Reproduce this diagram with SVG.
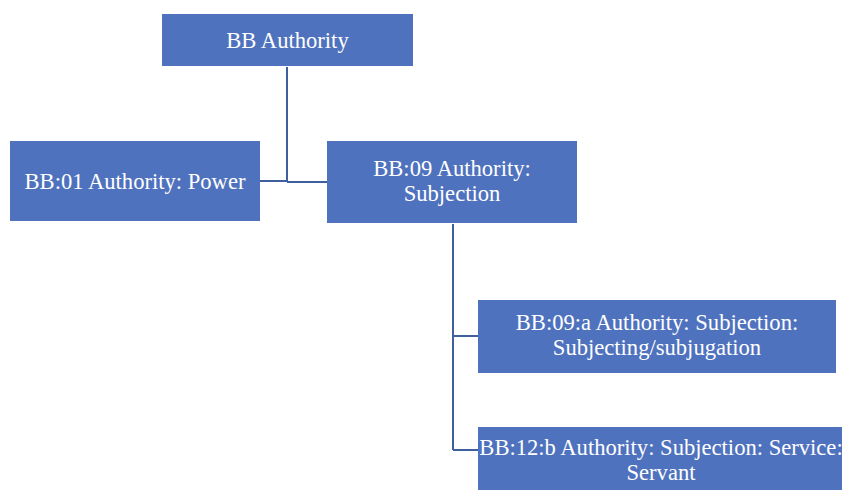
<svg xmlns="http://www.w3.org/2000/svg" width="842" height="490" viewBox="0 0 842 490">
<style>
.box{fill:#4f72be;}
.t{fill:#ffffff;font-family:"Liberation Serif","Times New Roman",serif;font-size:22.6px;text-anchor:middle;}
.c{fill:none;stroke:#3f5f9e;stroke-width:2;}
</style>
<rect width="842" height="490" fill="#ffffff"/>
<g id="connectors">
<path class="c" d="M287,67 V181 M260,181 H287 M287,182 H327"/>
<path class="c" d="M453,224 V450 M453,336 H478 M453,450 H478"/>
</g>
<g id="n-root">
<rect class="box" x="162" y="14" width="251" height="52"/>
<text class="t" x="287.5" y="47.5">BB Authority</text>
</g>
<g id="n-power">
<rect class="box" x="10" y="141" width="250" height="80"/>
<text class="t" x="135" y="188.5">BB:01 Authority: Power</text>
</g>
<g id="n-subjection">
<rect class="box" x="327" y="141" width="250" height="82"/>
<text class="t" x="452" y="175.5">BB:09 Authority:</text>
<text class="t" x="452" y="200.5">Subjection</text>
</g>
<g id="n-09a">
<rect class="box" x="478" y="300" width="358" height="73"/>
<text class="t" x="657" y="329.5">BB:09:a Authority: Subjection:</text>
<text class="t" x="657" y="354.5">Subjecting/subjugation</text>
</g>
<g id="n-12b">
<rect class="box" x="478" y="427" width="370" height="70"/>
<text class="t" x="661" y="454.5">BB:12:b Authority: Subjection: Service:</text>
<text class="t" x="661" y="479.5">Servant</text>
</g>
</svg>
